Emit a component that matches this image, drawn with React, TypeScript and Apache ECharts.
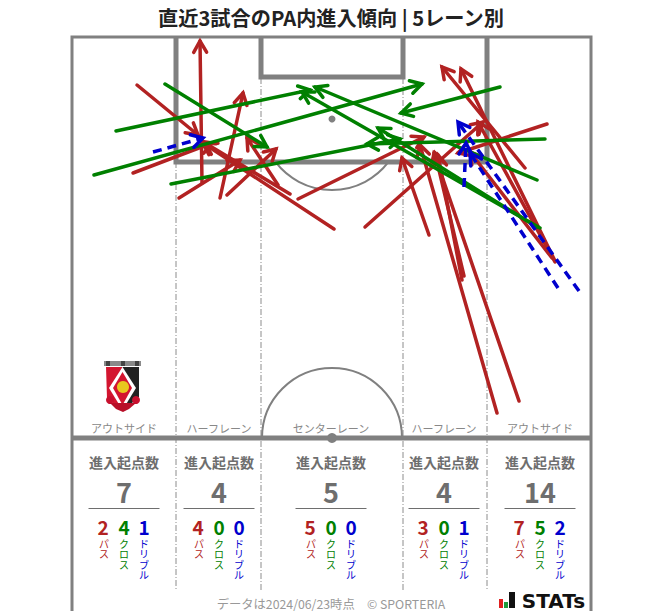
import React, { useEffect, useRef } from "react";
import * as echarts from "echarts";

const FONT = '"Noto Sans CJK JP", "Noto Sans", sans-serif';

const laneNames = ["アウトサイド", "ハーフレーン", "センターレーン", "ハーフレーン", "アウトサイド"];
const laneCenters = [124, 219, 331, 444, 540];
const totals = [7, 4, 5, 4, 14];
const passCounts = [2, 4, 5, 3, 7];
const crossCounts = [4, 0, 0, 0, 5];
const dribbleCounts = [1, 0, 0, 1, 2];

// [startX, startY, endX, endY] on the picture's pitch scale
const passArrows = [
  [137, 85, 198, 135],
  [133, 173, 212, 143],
  [202, 183, 200, 41],
  [179, 198, 240, 160],
  [220, 198, 243, 93],
  [227, 195, 276, 149],
  [334, 229, 203, 143],
  [290, 194, 205, 143],
  [278, 185, 247, 138],
  [298, 199, 424, 137],
  [365, 227, 483, 122],
  [429, 235, 402, 158],
  [462, 280, 438, 155],
  [464, 276, 435, 153],
  [497, 413, 420, 145],
  [519, 401, 434, 153],
  [525, 168, 442, 67],
  [555, 261, 461, 69],
  [555, 262, 478, 122],
  [552, 258, 470, 152],
  [547, 124, 458, 153],
];
const crossArrows = [
  [116, 131, 310, 90],
  [94, 175, 422, 84],
  [171, 184, 400, 139],
  [165, 84, 267, 147],
  [500, 87, 401, 113],
  [545, 139, 367, 144],
  [537, 180, 315, 87],
  [537, 227, 378, 128],
  [540, 228, 302, 92],
];
const dribbleArrows = [
  [153, 152, 203, 138],
  [464, 187, 466, 143],
  [579, 291, 458, 122],
  [558, 288, 470, 153],
];

const RED = "#b22222";
const GREEN = "#008000";
const BLUE = "#0000cd";
const PITCH = "#808080";
const W = 663;
const H = 611;

function arrowSeries(name: string, data: number[][], color: string, dash?: number[]) {
  return {
    type: "custom",
    name,
    coordinateSystem: "cartesian2d",
    clip: false,
    silent: true,
    encode: { x: [0, 2], y: [1, 3] },
    data,
    renderItem: (_: unknown, api: any) => {
      const a = api.coord([api.value(0), api.value(1)]);
      const b = api.coord([api.value(2), api.value(3)]);
      const ang = Math.atan2(b[1] - a[1], b[0] - a[0]);
      const len = 13;
      const spread = 0.52;
      const h1 = [b[0] - len * Math.cos(ang - spread), b[1] - len * Math.sin(ang - spread)];
      const h2 = [b[0] - len * Math.cos(ang + spread), b[1] - len * Math.sin(ang + spread)];
      return {
        type: "group",
        children: [
          {
            type: "line",
            shape: { x1: a[0], y1: a[1], x2: b[0], y2: b[1] },
            style: { stroke: color, lineWidth: 3.5, lineCap: dash ? "butt" : "round", lineDash: dash, fill: "none" },
          },
          {
            type: "polyline",
            shape: { points: [h1, b, h2] },
            style: { stroke: color, lineWidth: 3.5, lineCap: "round", lineJoin: "miter", fill: "none" },
          },
        ],
      };
    },
  };
}

function seg(x1: number, y1: number, x2: number, y2: number, stroke: string, lineWidth: number, lineDash?: number[]) {
  return { type: "line", z: 0, silent: true, shape: { x1, y1, x2, y2 }, style: { stroke, lineWidth, lineDash } };
}

function txt(text: string, x: number, y: number, fontSize: number, fill: string, fontWeight: string | number = "normal", extra: object = {}) {
  return {
    type: "text",
    z: 5,
    silent: true,
    style: { text, x, y, fontSize, fontWeight, fontFamily: FONT, fill, align: "center", verticalAlign: "middle", ...extra },
  };
}

function poly(points: number[][], fill: string) {
  return { type: "polygon", z: 1, silent: true, shape: { points }, style: { fill } };
}
function disc(cx: number, cy: number, r: number, fill: string) {
  return { type: "circle", z: 1, silent: true, shape: { cx, cy, r }, style: { fill } };
}

function crest() {
  return [
    poly([[104, 361], [141, 361], [141, 366], [104, 366]], "#8a8a8a"),
    poly([[106, 366], [110, 366], [110, 361], [106, 361]], "#444444"),
    poly([[121, 366], [125, 366], [125, 361], [121, 361]], "#444444"),
    poly([[135, 366], [139, 366], [139, 361], [135, 361]], "#444444"),
    poly([[106, 367], [122.5, 367], [122.5, 411], [107, 398]], "#d3152f"),
    poly([[122.5, 367], [139, 367], [139, 397], [122.5, 411]], "#222222"),
    poly([[122.5, 367], [136, 388], [122.5, 410], [109, 388]], "#ffffff"),
    poly([[122.5, 372], [132, 388], [122.5, 405], [113, 388]], "#d3152f"),
    disc(123, 387, 6, "#e8c81e"),
    disc(110, 400, 4, "#c8102e"),
    disc(136, 400, 4, "#c8102e"),
    poly([[110, 403], [136, 403], [129, 409], [123, 412], [116, 409]], "#b80f28"),
  ];
}

function pitch() {
  const lanes = [176, 261, 403, 487];
  const tops = [162, 78, 78, 162];
  const dash = [6, 2, 1, 2];
  return [
    ...lanes.map((x, i) => seg(x, tops[i], x, 591, "#8c8c8c", 1, dash)),
    { type: "rect", z: 0, silent: true, shape: { x: 72, y: 37, width: 519, height: 600 }, style: { fill: "none", stroke: PITCH, lineWidth: 3 } },
    { type: "polyline", z: 0, silent: true, shape: { points: [[176, 37], [176, 162], [487, 162], [487, 37]] }, style: { fill: "none", stroke: PITCH, lineWidth: 5 } },
    { type: "polyline", z: 0, silent: true, shape: { points: [[261, 37], [261, 77], [403, 77], [403, 37]] }, style: { fill: "none", stroke: PITCH, lineWidth: 5 } },
    seg(72, 438, 591, 438, PITCH, 5),
    { type: "arc", z: 0, silent: true, shape: { cx: 332, cy: 119, r: 71, startAngle: 0.65, endAngle: Math.PI - 0.65 }, style: { fill: "none", stroke: PITCH, lineWidth: 2 } },
    { type: "arc", z: 0, silent: true, shape: { cx: 332, cy: 438, r: 70, startAngle: Math.PI, endAngle: 2 * Math.PI }, style: { fill: "none", stroke: PITCH, lineWidth: 2 } },
    { type: "circle", z: 0, silent: true, shape: { cx: 332, cy: 119, r: 3.5 }, style: { fill: PITCH } },
    { type: "circle", z: 0, silent: true, shape: { cx: 332, cy: 438, r: 5 }, style: { fill: PITCH } },
  ];
}

function stats() {
  const out: any[] = [];
  laneCenters.forEach((cx, i) => {
    out.push(txt(laneNames[i], cx, 428, 11, "#888888"));
    out.push(txt("進入起点数", cx, 462, 14, "#6e6e6e", "bold"));
    out.push(txt(String(totals[i]), cx, 491, 27, "#6e6e6e", "bold"));
    out.push(seg(cx - 35.5, 508.5, cx + 35.5, 508.5, "#6e6e6e", 1));
    out.push(txt(String(passCounts[i]), cx - 21, 526, 19, RED, "bold"));
    out.push(txt(String(crossCounts[i]), cx, 526, 19, GREEN, "bold"));
    out.push(txt(String(dribbleCounts[i]), cx + 20, 526, 19, BLUE, "bold"));
    const labelStyle = { lineHeight: 10.5, verticalAlign: "top" };
    out.push(txt("パ\nス", cx - 20, 538, 10, RED, "normal", labelStyle));
    out.push(txt("ク\nロ\nス", cx, 538, 10, GREEN, "normal", labelStyle));
    out.push(txt("ド\nリ\nブ\nル", cx + 20, 538, 10, BLUE, "normal", labelStyle));
  });
  return out;
}

function logo() {
  return [
    poly([[499, 599], [503, 599], [503, 608], [499, 608]], "#e02020"),
    poly([[504, 602], [508, 602], [508, 608], [504, 608]], "#1f9a3c"),
    poly([[509, 592], [515, 592], [515, 608], [509, 608]], "#111111"),
    txt("STATs", 553.5, 601, 20, "#111111", "bold", { fontFamily: '"DejaVu Sans", sans-serif' }),
  ];
}

export default function App() {
  const ref = useRef<HTMLDivElement>(null);
  useEffect(() => {
    const chart = echarts.init(ref.current!, undefined, { renderer: "svg" });
    chart.setOption({
      animation: false,
      backgroundColor: "#ffffff",
      grid: { left: 0, top: 0, width: W, height: H },
      xAxis: { type: "value", min: 0, max: W, show: false },
      yAxis: { type: "value", min: 0, max: H, inverse: true, show: false },
      series: [
        arrowSeries("パス", passArrows, RED),
        arrowSeries("クロス", crossArrows, GREEN),
        arrowSeries("ドリブル", dribbleArrows, BLUE, [9, 6]),
      ],
      graphic: {
        elements: [
          ...pitch(),
          ...crest(),
          ...stats(),
          ...logo(),
          txt("直近3試合のPA内進入傾向 | 5レーン別", 331, 17.5, 20.2, "#222222", "bold"),
          txt("データは2024/06/23時点　© SPORTERIA", 331, 604, 12.3, "#999999"),
        ],
      },
    });
    return () => chart.dispose();
  }, []);
  return (
    <div
      ref={ref}
      style={{ position: "fixed", left: 0, top: 0, width: W, height: H, background: "#fff" }}
    />
  );
}
